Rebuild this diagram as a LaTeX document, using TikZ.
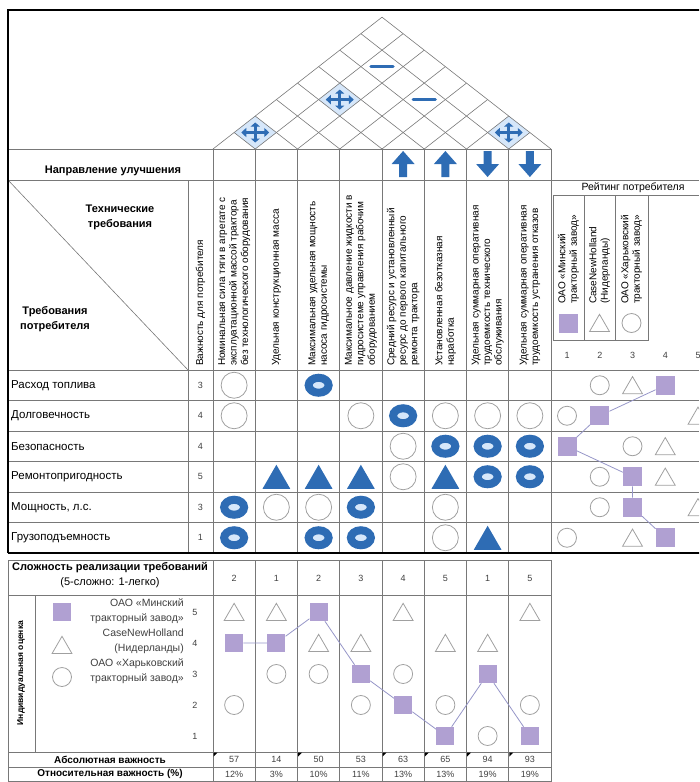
\documentclass[tikz,border=0pt]{standalone}
\usepackage{fontspec}
\setmainfont{Liberation Sans}
\usepackage{tikz}
\usetikzlibrary{arrows.meta,shapes.geometric}

\definecolor{hqblue}{RGB}{46,108,180}
\definecolor{hqpale}{RGB}{214,231,250}
\definecolor{hqline}{RGB}{120,120,120}
\definecolor{hqopen}{RGB}{160,160,160}
\definecolor{hqlilac}{RGB}{176,160,210}
\definecolor{hqlink}{RGB}{150,150,200}

\tikzstyle{strong}=[ellipse, draw=hqblue, fill=hqpale, line width=8pt, minimum width=20pt, minimum height=15pt, inner sep=0pt]
\tikzstyle{medium}=[circle, draw=hqopen, line width=0.8pt, minimum size=26pt, inner sep=0pt]
\tikzstyle{weak}=[regular polygon, regular polygon sides=3, fill=hqblue, minimum size=32pt, inner sep=0pt, yshift=-4pt]
\tikzstyle{minsk}=[rectangle, fill=hqlilac, minimum size=19pt, inner sep=0pt]
\tikzstyle{casenh}=[regular polygon, regular polygon sides=3, draw=hqopen, line width=0.8pt, minimum size=23pt, inner sep=0pt, yshift=-2.8pt]
\tikzstyle{kharkov}=[circle, draw=hqopen, line width=0.8pt, minimum size=19pt, inner sep=0pt]
\tikzstyle{gridline}=[draw=hqline, line width=0.6pt]
\tikzstyle{hqframe}=[draw=black, line width=1.8pt]
\tikzstyle{link}=[draw=hqlink, line width=0.8pt]
\tikzstyle{hqtext}=[font=\fontsize{11.5}{13}\selectfont, inner sep=1pt]
\tikzstyle{hqnum}=[font=\fontsize{9}{11}\selectfont, text=black!75, inner sep=1pt]
\tikzstyle{hqbold}=[font=\fontsize{11}{15}\selectfont\bfseries, align=center, inner sep=1pt]
\tikzstyle{colhead}=[rotate=90, anchor=west, align=left, font=\fontsize{10}{11.5}\selectfont, inner sep=0pt]

% roof cell, roof symbols, direction arrow
\newcommand{\hqcell}[2]{\fill[hqpale] ({#1-21.125},#2) -- (#1,{#2-16.48}) -- ({#1+21.125},#2) -- (#1,{#2+16.48}) -- cycle;}
\newcommand{\hqcross}[2]{%
  \draw[hqblue, line width=3pt, {Triangle[length=5pt,width=9pt]}-{Triangle[length=5pt,width=9pt]}] ({#1-14},#2) -- ({#1+14},#2);
  \draw[hqblue, line width=3pt, {Triangle[length=4pt,width=9pt]}-{Triangle[length=4pt,width=9pt]}] (#1,{#2-10}) -- (#1,{#2+10});}
\newcommand{\hqdash}[2]{\draw[hqblue, line width=3.5pt, line cap=round] ({#1-11},#2) -- ({#1+11},#2);}
\newcommand{\hqdir}[2]{\fill[hqblue] ({#1-4},{164+13*(#2)}) -- ({#1+4},{164+13*(#2)}) -- ({#1+4},164) -- ({#1+11.5},164) -- (#1,{164-13*(#2)}) -- ({#1-11.5},164) -- ({#1-4},164) -- cycle;}

\begin{document}
\begin{tikzpicture}[x=1pt,y=-1pt]
  \useasboundingbox (0,0) rectangle (699,782);
  \clip (0,0) rectangle (699,782);

  % roof
  \hqcell{255.25}{132.5}
  \hqcell{339.75}{99.6}
  \hqcell{508.75}{132.5}
  \foreach \k in {0,...,8}{
    \pgfmathsetmacro\bx{213+42.25*\k}
    \draw[gridline] (\bx,149) -- ({(\bx+551)/2},{149-0.39*(551-\bx)});
    \draw[gridline] (\bx,149) -- ({(\bx+213)/2},{149-0.39*(\bx-213)});
  }
  \hqcross{255.25}{132.5}
  \hqcross{339.75}{99.6}
  \hqcross{508.75}{132.5}
  \hqdash{382}{66.6}
  \hqdash{424.25}{99.6}

  % grid of the house
  \draw[gridline] (8,149) -- (551,149);
  \draw[gridline] (8,180) -- (699,180);
  \draw[gridline] (553,195) -- (699,195);
  \foreach \y in {370,400.5,431,461.5,492,522.5}
    \draw[gridline] (8,\y) -- (699,\y);
  \foreach \k in {0,...,8}
    \draw[gridline] ({213+42.25*\k},149) -- ({213+42.25*\k},553);
  \draw[gridline] (188,180) -- (188,553);
  \draw[gridline] (8,180) -- (188,370);
  \draw[gridline] (553,195) -- (553,340) -- (648,340) -- (648,195);
  \draw[gridline] (584,195) -- (584,340);
  \draw[gridline] (615,195) -- (615,340);
  \draw[hqframe] (8,553) -- (8,10) -- (705,10);
  \draw[hqframe] (8,553) -- (705,553);

  % direction of improvement
  \node[hqbold] (dir) at (113,171) {Направление улучшения};
  \hqdir{403.1}{1}
  \hqdir{445.4}{1}
  \hqdir{487.6}{-1}
  \hqdir{529.9}{-1}

  % headers
  \node[hqbold] (tech) at (120,217) {Технические\\требования};
  \node[hqbold] (cust) at (55,319) {Требования\\потребителя};
  \node[colhead] (h0) at (200.5,366) {Важность для потребителя};
  \node[colhead] (h1) at (234.1,366) {Номинальная сила тяги в агрегате с\\эксплуатационной массой трактора\\без технологического оборудования};
  \node[colhead] (h2) at (276.4,366) {Удельная конструкционная масса};
  \node[colhead] (h3) at (318.6,366) {Максимальная удельная мощность\\насоса гидросистемы};
  \node[colhead] (h4) at (360.9,366) {Максимальное давление жидкости в\\гидросистеме управления рабочим\\оборудованием};
  \node[colhead] (h5) at (403.1,366) {Средний ресурс и установленный\\ресурс до первого капитального\\ремонта трактора};
  \node[colhead] (h6) at (445.4,366) {Установленная безотказная\\наработка};
  \node[colhead] (h7) at (487.6,366) {Удельная суммарная оперативная\\трудоемкость технического\\обслуживания};
  \node[colhead] (h8) at (529.9,366) {Удельная суммарная оперативная\\трудоемкость устранения отказов};

  % customer rating header
  \node[hqtext, font=\fontsize{10.5}{12}\selectfont] (rate) at (633,188) {Рейтинг потребителя};
  \node[colhead] (lm) at (568.5,304) {ОАО «Минский\\тракторный завод»};
  \node[colhead] (lc) at (599.5,304) {CaseNewHolland\\(Нидерланды)};
  \node[colhead] (lk) at (631.5,304) {ОАО «Харьковский\\тракторный завод»};
  \node[minsk] (km) at (568.5,323) {};
  \node[casenh] (kc) at (599.5,323) {};
  \node[kharkov] (kk) at (631.5,323) {};
  \foreach \n in {1,...,5}
    \node[hqnum] (n\n) at ({567+32.75*(\n-1)},355) {\n};

  % customer requirements
  \foreach \r/\txt/\w in {1/Расход топлива/3, 2/Долговечность/4, 3/Безопасность/4,
      4/Ремонтопригодность/5, 5/{Мощность, л.с.}/3, 6/Грузоподъемность/1}{
    \node[hqtext, anchor=west] (q\r) at (10,{385.25+30.5*(\r-1)}) {\txt};
    \node[hqnum] (w\r) at (200.5,{385.25+30.5*(\r-1)}) {\w};
  }

  % relationship matrix
  \foreach \r/\c/\t in {1/1/medium, 1/3/strong,
      2/1/medium, 2/4/medium, 2/5/strong, 2/6/medium, 2/7/medium, 2/8/medium,
      3/5/medium, 3/6/strong, 3/7/strong, 3/8/strong,
      4/2/weak, 4/3/weak, 4/4/weak, 4/5/medium, 4/6/weak, 4/7/strong, 4/8/strong,
      5/1/strong, 5/2/medium, 5/3/medium, 5/4/strong, 5/6/medium,
      6/1/strong, 6/3/strong, 6/4/strong, 6/6/medium, 6/7/weak}
    \node[\t] (m\r-\c) at ({213+42.25*(\c-0.5)},{385.25+30.5*(\r-1)}) {};

  % customer rating
  \foreach \r/\a/\b/\c in {1/4/3/2, 2/2/5/1, 3/1/4/3, 4/3/4/2, 5/3/5/2, 6/4/3/1}{
    \node[minsk] (r\r) at ({567+32.75*(\a-1)},{385.25+30.5*(\r-1)}) {};
    \node[casenh] (rc\r) at ({567+32.75*(\b-1)},{385.25+30.5*(\r-1)}) {};
    \node[kharkov] (rk\r) at ({567+32.75*(\c-1)},{385.25+30.5*(\r-1)}) {};
  }
  \draw[link] (r1) -- (r2) -- (r3) -- (r4) -- (r5) -- (r6);

  % lower table
  \draw[gridline] (8,560) rectangle (551,781);
  \foreach \y in {595,752,767}
    \draw[gridline] (8,\y) -- (551,\y);
  \foreach \k in {0,...,7}
    \draw[gridline] ({213+42.25*\k},560) -- ({213+42.25*\k},781);
  \draw[gridline] (35,595) -- (35,752);
  \foreach \k in {0,2,4,5,6,7}
    \fill ({213.5+42.25*\k},752.5) -- ++(4,0) -- ++(-4,4) -- cycle;

  \node[hqbold] (diff) at (110,575) {Сложность реализации требований\\{\mdseries(5-сложно: 1-легко)}};
  \node[hqbold, rotate=90, font=\fontsize{8.5}{10}\selectfont\bfseries] (ind) at (21,673) {Индивидуальная оценка};
  \node[hqbold, font=\fontsize{10}{12}\selectfont\bfseries] (absw) at (110,759.5) {Абсолютная важность};
  \node[hqbold, font=\fontsize{10}{12}\selectfont\bfseries] (relw) at (110,774) {Относительная важность (\%)};
  \foreach \l in {1,...,5}
    \node[hqnum] (l\l) at (195,{612+31*(5-\l)}) {\l};

  \node[minsk, minimum size=18pt] (gm) at (62,612) {};
  \node[casenh] (gc) at (62,645) {};
  \node[kharkov] (gk) at (62,677) {};
  \node[hqnum, anchor=east, align=right, font=\fontsize{10.5}{15}\selectfont] (tm) at (185,611) {ОАО «Минский\\тракторный завод»};
  \node[hqnum, anchor=east, align=right, font=\fontsize{10.5}{15}\selectfont] (tc) at (185,641) {CaseNewHolland\\(Нидерланды)};
  \node[hqnum, anchor=east, align=right, font=\fontsize{10.5}{15}\selectfont] (tk) at (185,671) {ОАО «Харьковский\\тракторный завод»};

  \foreach \c/\d/\ab/\rl in {1/2/57/12, 2/1/14/3, 3/2/50/10, 4/3/53/11,
      5/4/63/13, 6/5/65/13, 7/1/94/19, 8/5/93/19}{
    \node[hqnum] (d\c) at ({213+42.25*(\c-0.5)},578) {\d};
    \node[hqnum] (a\c) at ({213+42.25*(\c-0.5)},759.5) {\ab};
    \node[hqnum] (p\c) at ({213+42.25*(\c-0.5)},774) {\rl\%};
  }

  \foreach \c/\a/\b/\k in {1/4/5/2, 2/4/5/3, 3/5/4/3, 4/3/4/2,
      5/2/5/3, 6/1/4/2, 7/3/4/1, 8/1/5/2}{
    \node[minsk, minimum size=18pt] (s\c) at ({213+42.25*(\c-0.5)},{612+31*(5-\a)}) {};
    \node[casenh] (sc\c) at ({213+42.25*(\c-0.5)},{612+31*(5-\b)}) {};
    \node[kharkov] (sk\c) at ({213+42.25*(\c-0.5)},{612+31*(5-\k)}) {};
  }
  \draw[link] (s1) -- (s2) -- (s3) -- (s4) -- (s5) -- (s6) -- (s7) -- (s8);
\end{tikzpicture}
\end{document}
